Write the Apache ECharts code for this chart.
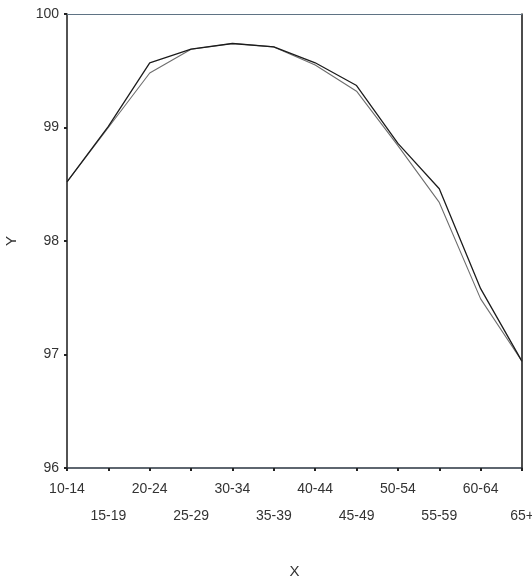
<!DOCTYPE html>
<html>
<head>
<meta charset="utf-8">
<script src="https://cdn.jsdelivr.net/npm/echarts@6/dist/echarts.min.js"></script>
<style>html,body{margin:0;padding:0;background:#fff}#c{width:532px;height:584px}</style>
</head>
<body>
<div id="c"></div>
<script>
const categories = ['10-14','15-19','20-24','25-29','30-34','35-39','40-44','45-49','50-54','55-59','60-64','65+'];
const observed = [98.52, 99.01, 99.57, 99.69, 99.74, 99.71, 99.57, 99.37, 98.86, 98.46, 97.58, 96.94];
const fitted   = [98.52, 99.00, 99.48, 99.69, 99.74, 99.71, 99.55, 99.32, 98.84, 98.34, 97.49, 96.94];
const yTicks = [96, 97, 98, 99, 100];

const font = "'Liberation Sans Narrow', 'Liberation Sans', Arial, sans-serif";
const chart = echarts.init(document.getElementById('c'));
chart.setOption({
  backgroundColor: '#fff',
  animation: false,
  grid: { left: 67, right: 10, top: 14, bottom: 116, containLabel: false, outerBoundsMode: 'none' },
  xAxis: [{
    type: 'category', data: categories, boundaryGap: false,
    name: 'X', nameLocation: 'middle', nameGap: 96,
    nameTextStyle: { fontFamily: font, fontSize: 15, color: '#333' },
    axisLine: { lineStyle: { color: '#2a3440', width: 1.5 } },
    axisTick: { show: true, length: 3, lineStyle: { color: '#222', width: 2 } },
    axisLabel: {
      interval: 0, fontFamily: font, fontSize: 14, color: '#333', margin: 8, lineHeight: 27,
      formatter: (v, i) => (i % 2 === 1 ? '\n' + v : v)
    },
    splitLine: { show: false }
  }, {
    type: 'category', data: categories, boundaryGap: false, position: 'top',
    axisLine: { lineStyle: { color: '#5f7384', width: 1 } },
    axisTick: { show: false }, axisLabel: { show: false }, splitLine: { show: false }
  }],
  yAxis: [{
    type: 'value', min: 96, max: 100, interval: 1,
    name: 'Y', nameLocation: 'middle', nameGap: 48, nameRotate: 90,
    nameTextStyle: { fontFamily: font, fontSize: 15, color: '#333' },
    axisLine: { show: true, lineStyle: { color: '#1a1a1a', width: 1.5 } },
    axisTick: { show: true, length: 3, lineStyle: { color: '#222', width: 2 } },
    axisLabel: {
      fontFamily: font, fontSize: 14, color: '#333', margin: 8,
      formatter: v => yTicks.includes(v) ? String(v) : ''
    },
    splitLine: { show: false }
  }, {
    type: 'value', min: 96, max: 100, interval: 1, position: 'right',
    axisLine: { show: true, lineStyle: { color: '#111', width: 1.5 } },
    axisTick: { show: false }, axisLabel: { show: false }, splitLine: { show: false }
  }],
  series: [{
    name: 'fitted', type: 'line', data: fitted, showSymbol: false, symbol: 'none',
    lineStyle: { color: '#6e6e6e', width: 1.1 }, z: 2
  }, {
    name: 'observed', type: 'line', data: observed, showSymbol: false, symbol: 'none',
    lineStyle: { color: '#1c1c1c', width: 1.3 }, z: 3
  }]
});
</script>
</body>
</html>
